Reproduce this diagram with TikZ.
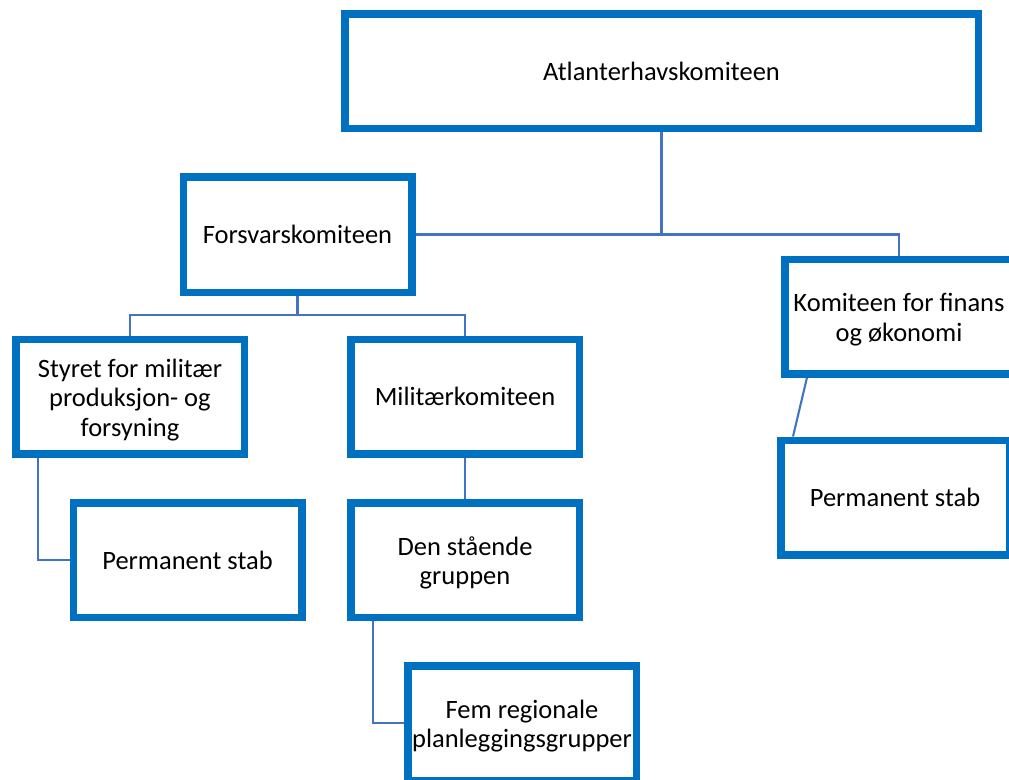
\documentclass[tikz,border=0pt]{standalone}
\usepackage{fontspec}
\setmainfont{Carlito}
\usetikzlibrary{backgrounds}
\definecolor{boxblue}{HTML}{0070C0}
\definecolor{lineblue}{HTML}{4472C4}
\newcommand{\toprule}{\rule{0pt}{25pt}}
\begin{document}
\begin{tikzpicture}[x=1pt,y=-1pt,
  orgbox/.style={draw=boxblue, line width=7.5pt, fill=white, inner sep=0pt,
    minimum width=228.5pt, minimum height=114.5pt, align=center,
    font=\fontsize{26.5}{29.5}\selectfont},
  conn/.style={draw=lineblue, line width=2.1pt}]
\useasboundingbox (0,0) rectangle (1009,779);
\clip (0,0) rectangle (1009,779);
\node[orgbox, minimum width=633.5pt] (top) at (661.5,71) {Atlanterhavskomiteen};
\node[orgbox, minimum height=115.5pt] (forsvar) at (297.5,234.5) {Forsvarskomiteen};
\node[orgbox] (styret) at (130,396.5) {\toprule Styret for militær\\produksjon- og\\forsyning};
\node[orgbox] (milit) at (465,396.5) {Militærkomiteen};
\node[orgbox] (pstabA) at (187.5,560) {Permanent stab};
\node[orgbox] (den) at (465,560) {\toprule Den stående\\gruppen};
\node[orgbox] (fem) at (522,723) {\toprule Fem regionale\\planleggingsgrupper};
\node[orgbox] (komit) at (899,316.5) {\toprule Komiteen for finans\\og økonomi};
\node[orgbox] (pstabB) at (895,497.5) {Permanent stab};
\coordinate (bus) at (0,315);
\coordinate (cA) at (38,0);
\coordinate (cB) at (373,0);
\coordinate (cC) at (807,0);
\coordinate (cD) at (793,0);
\begin{scope}[on background layer]
\fill[white] (0,0) rectangle (1009,779);
\draw[conn] (forsvar.east) -- (komit.north |- forsvar.east) -- (komit.north);
\draw[conn] (top.south) -- (top.south |- forsvar.east);
\draw[conn] (forsvar.south) -- (forsvar.south |- bus);
\draw[conn] (styret.north) |- (milit.north |- bus) -- (milit.north);
\draw[conn] (styret.south -| cA) |- (pstabA.west);
\draw[conn] (milit.south) -- (den.north);
\draw[conn] (den.south -| cB) |- (fem.west);
\draw[conn] (komit.south -| cC) -- (pstabB.north -| cD);
\end{scope}
\end{tikzpicture}
\end{document}
